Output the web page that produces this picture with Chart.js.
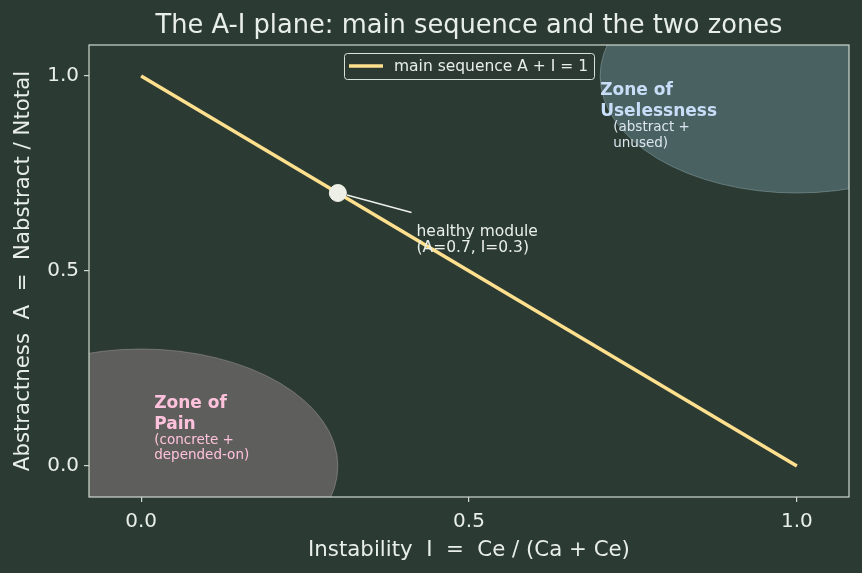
<!DOCTYPE html>
<html>
<head>
<meta charset="utf-8">
<script src="https://cdn.jsdelivr.net/npm/chart.js@4/dist/chart.umd.min.js"></script>
<style>
  html, body { margin: 0; padding: 0; background: #2b3a32; }
  #wrap { width: 862px; height: 573px; }
</style>
</head>
<body>
<div id="wrap"><canvas id="chart" width="862" height="573"></canvas></div>
<script>
// main sequence A + I = 1
const SEQ_I = [0, 1]
const SEQ_A = [1, 0]

// one healthy module on the line
const HEALTHY_I = [0.3]
const HEALTHY_A = [0.7]

// the two zones (circles in data units)
const ZONE_I = [0, 1]
const ZONE_A = [0, 1]
const ZONE_R = [0.3, 0.3]

const TICKS = [0, 0.5, 1]
const TICK_LABELS = ['0.0', '0.5', '1.0']

const FONT = "'DejaVu Sans', sans-serif"
const BG = '#2b3a32'
const FG = '#e8eee8'
const SPINE = '#cfd9cf'
const LINE = '#ffe08f'

const zonePlugin = {
    id: 'zones',
    beforeDatasetsDraw: function (chart) {
        const ctx = chart.ctx
        const x = chart.scales.x
        const y = chart.scales.y
        const a = chart.chartArea
        const fills = ['rgba(145, 130, 134, 0.5)', 'rgba(105, 135, 145, 0.5)']
        const edges = ['rgba(170, 165, 160, 0.45)', 'rgba(150, 175, 180, 0.45)']
        ctx.save()
        ctx.beginPath()
        ctx.rect(a.left, a.top, a.right - a.left, a.bottom - a.top)
        ctx.clip()
        for (let k = 0; k < ZONE_I.length; k++) {
            const cx = x.getPixelForValue(ZONE_I[k])
            const cy = y.getPixelForValue(ZONE_A[k])
            const rx = x.getPixelForValue(ZONE_I[k] + ZONE_R[k]) - cx
            const ry = cy - y.getPixelForValue(ZONE_A[k] + ZONE_R[k])
            ctx.beginPath()
            ctx.ellipse(cx, cy, rx, ry, 0, 0, Math.PI * 2)
            ctx.fillStyle = fills[k]
            ctx.fill()
            ctx.lineWidth = 1
            ctx.strokeStyle = edges[k]
            ctx.stroke()
        }
        ctx.restore()
    },
    afterDraw: function (chart) {
        const ctx = chart.ctx
        const x = chart.scales.x
        const y = chart.scales.y
        const a = chart.chartArea
        ctx.save()

        // frame
        ctx.strokeStyle = SPINE
        ctx.lineWidth = 1.2
        ctx.strokeRect(a.left, a.top, a.right - a.left, a.bottom - a.top)

        // title
        ctx.fillStyle = FG
        ctx.textAlign = 'center'
        ctx.textBaseline = 'alphabetic'
        ctx.font = '25.7px ' + FONT
        ctx.fillText('The A-I plane: main sequence and the two zones', (a.left + a.right) / 2, 33)

        // axis titles
        ctx.font = '21.3px ' + FONT
        ctx.fillText('Instability  I  =  Ce / (Ca + Ce)', (a.left + a.right) / 2, 556)
        ctx.save()
        ctx.translate(29, (a.top + a.bottom) / 2)
        ctx.rotate(-Math.PI / 2)
        ctx.fillText('Abstractness  A  =  Nabstract / Ntotal', 0, 0)
        ctx.restore()

        // zone labels
        ctx.textAlign = 'left'
        ctx.fillStyle = '#ffc2dc'
        ctx.font = 'bold 17px ' + FONT
        let px = x.getPixelForValue(0.02)
        ctx.fillText('Zone of', px, 408)
        ctx.fillText('Pain', px, 429)
        ctx.font = '13.5px ' + FONT
        ctx.fillText('(concrete +', px, 444)
        ctx.fillText('depended-on)', px, 459)

        ctx.fillStyle = '#c8def8'
        ctx.font = 'bold 17px ' + FONT
        px = x.getPixelForValue(0.7)
        ctx.fillText('Zone of', px, 95)
        ctx.fillText('Uselessness', px, 116)
        ctx.font = '13.5px ' + FONT
        px = x.getPixelForValue(0.72)
        ctx.fillStyle = '#dce6ee'
        ctx.fillText('(abstract +', px, 131)
        ctx.fillText('unused)', px, 147)

        // annotation for the healthy module
        const hx = x.getPixelForValue(HEALTHY_I[0])
        const hy = y.getPixelForValue(HEALTHY_A[0])
        const tx = x.getPixelForValue(0.42)
        const ty = y.getPixelForValue(0.55)
        ctx.strokeStyle = '#eef0ec'
        ctx.lineWidth = 1.3
        ctx.beginPath()
        ctx.moveTo(tx - 5, ty - 39)
        ctx.lineTo(hx + 9, hy + 2)
        ctx.stroke()
        ctx.fillStyle = FG
        ctx.font = '15.5px ' + FONT
        ctx.fillText('healthy module', tx, ty - 16)
        ctx.fillText('(A=0.7, I=0.3)', tx, ty)

        // legend
        const lx = 344, ly = 53, lw = 250, lh = 26
        ctx.fillStyle = 'rgba(43, 58, 50, 0.85)'
        ctx.strokeStyle = '#d8e2d8'
        ctx.lineWidth = 1
        ctx.beginPath()
        ctx.roundRect(lx + 0.5, ly + 0.5, lw, lh, 3)
        ctx.fill()
        ctx.stroke()
        ctx.strokeStyle = LINE
        ctx.lineWidth = 3.5
        ctx.beginPath()
        ctx.moveTo(lx + 5, ly + 13)
        ctx.lineTo(lx + 39, ly + 13)
        ctx.stroke()
        ctx.fillStyle = FG
        ctx.font = '15.5px ' + FONT
        ctx.textBaseline = 'middle'
        ctx.fillText('main sequence A + I = 1', lx + 50, ly + 14)

        ctx.restore()
    }
}

const bgPlugin = {
    id: 'bg',
    beforeDraw: function (chart) {
        const ctx = chart.ctx
        ctx.save()
        ctx.fillStyle = BG
        ctx.fillRect(0, 0, chart.width, chart.height)
        ctx.restore()
    }
}

const tickCallback = function (value) {
    const i = TICKS.indexOf(value)
    return i >= 0 ? TICK_LABELS[i] : ''
}

new Chart(document.getElementById('chart'), {
    type: 'scatter',
    data: {
        datasets: [
            {
                type: 'line',
                label: 'main sequence A + I = 1',
                data: SEQ_I.map(function (v, i) { return { x: v, y: SEQ_A[i] } }),
                borderColor: LINE,
                borderWidth: 3.5,
                pointRadius: 0,
                fill: false,
                order: 2
            },
            {
                label: 'healthy module',
                data: HEALTHY_I.map(function (v, i) { return { x: v, y: HEALTHY_A[i] } }),
                backgroundColor: '#eeefe6',
                borderColor: '#eeefe6',
                pointRadius: 8.5,
                order: 1
            }
        ]
    },
    options: {
        responsive: false,
        animation: false,
        layout: { padding: { top: 45, right: 13, left: 0, bottom: 0 } },
        plugins: {
            legend: { display: false },
            tooltip: { enabled: false }
        },
        scales: {
            x: {
                type: 'linear',
                min: -0.0795,
                max: 1.0795,
                afterBuildTicks: function (scale) { scale.ticks = TICKS.map(function (v) { return { value: v } }) },
                afterFit: function (scale) { scale.height = 76 },
                border: { display: false },
                grid: { drawOnChartArea: false, drawTicks: true, tickLength: 5, color: SPINE, lineWidth: 1.2 },
                ticks: { callback: tickCallback, color: FG, font: { family: FONT, size: 20 }, padding: 8, maxRotation: 0 }
            },
            y: {
                type: 'linear',
                min: -0.0795,
                max: 1.0795,
                afterBuildTicks: function (scale) { scale.ticks = TICKS.map(function (v) { return { value: v } }) },
                afterFit: function (scale) { scale.width = 89 },
                border: { display: false },
                grid: { drawOnChartArea: false, drawTicks: true, tickLength: 5, color: SPINE, lineWidth: 1.2 },
                ticks: { callback: tickCallback, color: FG, font: { family: FONT, size: 20 }, padding: 5 }
            }
        }
    },
    plugins: [bgPlugin, zonePlugin]
})
</script>
</body>
</html>
